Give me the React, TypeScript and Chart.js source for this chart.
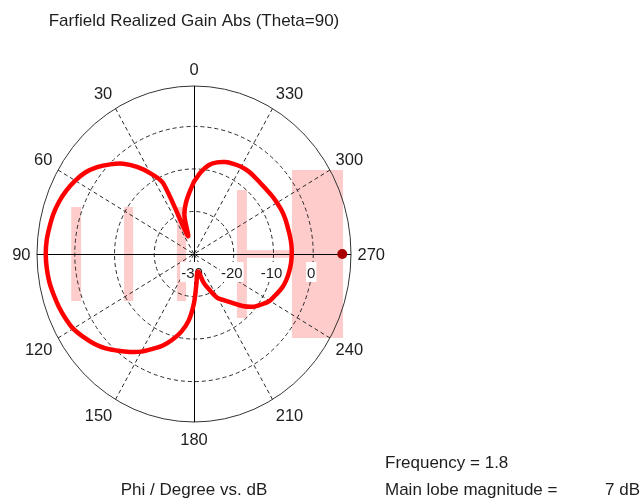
import React, { useEffect, useRef } from 'react';
import { Chart, registerables } from 'chart.js';

Chart.register(...registerables);

// ---- data ----
const phiDeg = [
  0, 5, 10, 15, 20, 25, 30, 35, 40, 45, 50, 55, 60, 65, 70, 75, 80, 85,
  90, 95, 100, 105, 110, 115, 120, 125, 130, 135, 140, 145, 150, 155, 160, 165, 170, 175,
  180, 185, 190, 195, 200, 205, 210, 215, 220, 225, 230, 235, 240, 245, 250, 255, 260, 265,
  270, 275, 280, 285, 290, 295, 300, 305, 310, 315, 320, 325, 330, 335, 340, 345, 350, 355,
];
const gainDb = [
  -13.0, -15.7, -18.0, -20.7, -25.5, -11.6, -8.1, -5.0, -2.3, -0.2, 1.8, 3.4, 4.5, 5.4, 6.1, 6.6, 6.9, 7.2,
  7.3, 7.2, 7.0, 6.6, 6.2, 5.7, 5.1, 4.0, 2.8, 1.4, -0.3, -1.9, -3.5, -5.4, -7.1, -9.2, -11.4, -14.2,
  -18.5, -23.0, -25.4, -25.7, -22.7, -20.6, -18.0, -16.7, -15.0, -12.7, -10.7, -9.3, -8.0, -7.3, -6.5, -6.0, -5.7, -5.5,
  -5.4, -5.4, -5.5, -5.6, -5.6, -5.7, -5.9, -6.1, -6.3, -6.4, -6.3, -6.2, -6.3, -6.6, -7.0, -7.7, -8.8, -10.7,
];
const rMinDb = -30;
const rMaxDb = 9.5;
const ringDb = [-20, -10, 0];
const tickDb = [-30, -20, -10, 0];
const tickLabels = ['-30', '-20', '-10', '0'];
const angleDeg = [0, 30, 60, 90, 120, 150, 180, 210, 240, 270, 300, 330];
const angleLabels = ['0', '30', '60', '90', '120', '150', '180', '210', '240', '270', '300', '330'];
const mainLobePhi = 270;
const mainLobeDb = 7.3;

// highlighted bands (cartesian plot units, radius = dB - rMinDb)
const bandX0 = [-30.9, -17.6, -4.3, 10.8, 24.65, 10.8];
const bandX1 = [-28.4, -15.3, -2.0, 13.3, 37.5, 37.5];
const bandY0 = [-11.05, -11.05, -11.05, -15.05, -19.75, -0.9];
const bandY1 = [11.05, 11.05, 11.05, 15.05, 19.75, 0.9];

const titleText = 'Farfield Realized Gain Abs (Theta=90)';
const axisText = 'Phi / Degree vs. dB';
const freqText = 'Frequency = 1.8';
const lobeText = 'Main lobe magnitude =';
const lobeValueText = '7 dB';

const FONT = "'Liberation Sans', Arial, sans-serif";
const TEXT = '#1e1e1e';

function toXY(phi: number, db: number) {
  const r = Math.max(0, db - rMinDb);
  const a = (phi * Math.PI) / 180;
  return { x: -r * Math.sin(a), y: r * Math.cos(a) };
}

const polarPlugin = {
  id: 'polarPlugin',
  beforeDatasetsDraw(chart: any) {
    const { ctx } = chart;
    const xs = chart.scales.x;
    const ys = chart.scales.y;
    const px = (v: number) => xs.getPixelForValue(v);
    const py = (v: number) => ys.getPixelForValue(v);
    const cx = px(0);
    const cy = py(0);
    const R = rMaxDb - rMinDb;
    ctx.save();

    // pink bands
    ctx.fillStyle = '#ffcccc';
    for (let i = 0; i < bandX0.length; i++) {
      const l = px(bandX0[i]);
      const r = px(bandX1[i]);
      const t = py(bandY1[i]);
      const b = py(bandY0[i]);
      ctx.fillRect(l, t, r - l, b - t);
    }

    // dashed rings
    ctx.strokeStyle = '#2a2a2a';
    ctx.lineWidth = 1;
    ctx.setLineDash([4, 3]);
    ringDb.forEach((d) => {
      const rr = d - rMinDb;
      ctx.beginPath();
      ctx.ellipse(cx, cy, px(rr) - cx, cy - py(rr), 0, 0, Math.PI * 2);
      ctx.stroke();
    });
    // dashed spokes
    angleDeg.forEach((a) => {
      if (a % 90 === 0) return;
      const p = toXY(a, rMaxDb);
      ctx.beginPath();
      ctx.moveTo(px(p.x), py(p.y));
      ctx.lineTo(cx, cy);
      ctx.stroke();
    });
    ctx.setLineDash([]);

    // outer ellipse
    ctx.strokeStyle = '#333333';
    ctx.beginPath();
    ctx.ellipse(cx, cy, px(R) - cx, cy - py(R), 0, 0, Math.PI * 2);
    ctx.stroke();

    // solid axes
    ctx.strokeStyle = '#000000';
    ctx.beginPath();
    ctx.moveTo(px(-R), Math.round(cy) + 0.5);
    ctx.lineTo(px(R), Math.round(cy) + 0.5);
    ctx.moveTo(Math.round(cx) + 0.5, py(R));
    ctx.lineTo(Math.round(cx) + 0.5, py(-R));
    ctx.stroke();

    // radial tick labels with white boxes
    ctx.font = `15px ${FONT}`;
    ctx.textAlign = 'center';
    ctx.textBaseline = 'alphabetic';
    tickDb.forEach((d, i) => {
      const x = px(d - rMinDb) - 2;
      const w = ctx.measureText(tickLabels[i]).width;
      ctx.fillStyle = '#ffffff';
      ctx.fillRect(x - w / 2 - 1, cy + 8, w + 2, 20);
      ctx.fillStyle = TEXT;
      ctx.fillText(tickLabels[i], x, cy + 24);
    });

    // angle labels
    ctx.font = `16.5px ${FONT}`;
    const capH = 11.8;
    angleDeg.forEach((a, i) => {
      const p = toXY(a, rMaxDb);
      const ex = px(p.x);
      const ey = py(p.y);
      const rad = (a * Math.PI) / 180;
      const ux = -Math.sin(rad);
      const uy = -Math.cos(rad);
      const w = ctx.measureText(angleLabels[i]).width;
      const sx = Math.abs(ux) < 0.1 ? 0 : Math.sign(ux);
      const sy = Math.abs(uy) < 0.1 ? 0 : Math.sign(uy);
      const lx = ex + ux * 6.5 + (sx * w) / 2;
      const ly = ey + uy * 11 + (sy * capH) / 2;
      ctx.fillStyle = TEXT;
      ctx.fillText(angleLabels[i], lx, ly + capH / 2);
    });
    ctx.restore();
  },
  afterDraw(chart: any) {
    const { ctx } = chart;
    const cx = chart.scales.x.getPixelForValue(0);
    ctx.save();
    ctx.fillStyle = TEXT;
    ctx.font = `17px ${FONT}`;
    ctx.textBaseline = 'alphabetic';
    ctx.textAlign = 'center';
    ctx.fillText(titleText, cx, 26);
    ctx.fillText(axisText, cx, 495);
    ctx.textAlign = 'left';
    ctx.fillText(freqText, 385, 468);
    ctx.fillText(lobeText, 385, 495);
    ctx.textAlign = 'right';
    ctx.fillText(lobeValueText, 640, 495);
    ctx.restore();
  },
};

export default function App() {
  const ref = useRef<HTMLCanvasElement | null>(null);
  useEffect(() => {
    if (!ref.current) return;
    const curve = phiDeg.map((p, i) => toXY(p, gainDb[i]));
    curve.push(curve[0]);
    const R = rMaxDb - rMinDb;
    const chart = new Chart(ref.current, {
      type: 'scatter',
      data: {
        datasets: [
          {
            data: curve,
            showLine: true,
            borderColor: '#ff0000',
            backgroundColor: '#ff0000',
            borderWidth: 4.5,
            pointRadius: 0,
            tension: 0.3,
            fill: false,
            borderJoinStyle: 'round',
            borderCapStyle: 'round',
            clip: false,
          } as any,
          {
            data: [toXY(mainLobePhi, mainLobeDb)],
            pointRadius: 5,
            backgroundColor: '#a80000',
            borderColor: '#a80000',
            borderWidth: 0,
            clip: false,
          } as any,
        ],
      },
      options: {
        animation: false,
        responsive: false,
        devicePixelRatio: 1,
        layout: { padding: { left: 37, right: 293, top: 86, bottom: 82 } },
        scales: {
          x: { type: 'linear', min: -R, max: R, display: false },
          y: { type: 'linear', min: -R, max: R, display: false },
        },
        plugins: {
          legend: { display: false },
          tooltip: { enabled: false },
          title: { display: false },
        },
        events: [],
      },
      plugins: [polarPlugin],
    });
    return () => chart.destroy();
  }, []);
  return (
    <div style={{ position: 'fixed', left: 0, top: 0, width: 644, height: 504, background: '#ffffff' }}>
      <canvas ref={ref} width={644} height={504} style={{ display: 'block' }} />
    </div>
  );
}
